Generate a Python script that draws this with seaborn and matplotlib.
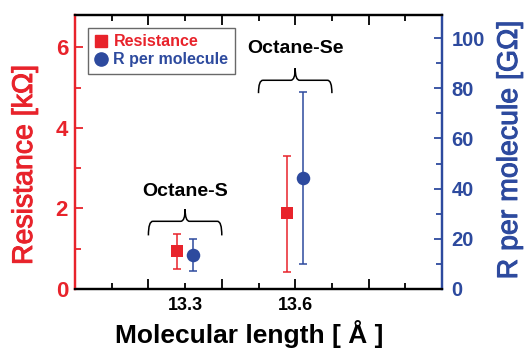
import matplotlib
matplotlib.use("Agg")
import matplotlib.pyplot as plt
import matplotlib.patheffects as pe
import seaborn as sns
import numpy as np
import pandas as pd
from matplotlib.path import Path
from matplotlib.patches import PathPatch
from matplotlib.lines import Line2D

# ---- data ----
molecules = ["Octane-S", "Octane-Se"]
x_resistance = [13.277, 13.577]
resistance = [0.95, 1.89]
resistance_lo = [0.50, 0.42]
resistance_hi = [1.36, 3.31]
x_permol = [13.322, 13.621]
r_permol = [13.5, 44.3]
r_permol_lo = [7.2, 9.8]
r_permol_hi = [19.8, 78.6]

RED = "#e8232b"
BLUE = "#2d4a9e"

sns.set_theme(style="ticks")
plt.rcParams["font.family"] = ["Liberation Sans", "DejaVu Sans"]

W, H = 526, 349
fig = plt.figure(figsize=(W / 100, H / 100), dpi=100)
L, R, B, T = 75, 442, 289, 15
ax = fig.add_axes([L / W, 1 - B / H, (R - L) / W, (B - T) / H])
ax2 = ax.twinx()

df_r = pd.DataFrame({"x": x_resistance, "y": resistance, "mol": molecules})
df_m = pd.DataFrame({"x": x_permol, "y": r_permol, "mol": molecules})

# error bars
yr = np.array(resistance)
ax.errorbar(x_resistance, yr, yerr=[yr - np.array(resistance_lo), np.array(resistance_hi) - yr],
            fmt="none", ecolor=RED, elinewidth=1.1, capsize=3.2, capthick=1.1, zorder=2)
ym = np.array(r_permol)
ax2.errorbar(x_permol, ym, yerr=[ym - np.array(r_permol_lo), np.array(r_permol_hi) - ym],
             fmt="none", ecolor=BLUE, elinewidth=1.1, capsize=3.2, capthick=1.1, zorder=2)

sns.scatterplot(data=df_r, x="x", y="y", ax=ax, marker="s", color=RED, s=72,
                linewidth=0, zorder=3, legend=False)
sns.scatterplot(data=df_m, x="x", y="y", ax=ax2, marker="o", color=BLUE, s=95,
                linewidth=0, zorder=3, legend=False)

ax.set_xlim(13.0, 14.0)
ax.set_ylim(0, 6.8)
ax2.set_ylim(0, 109.2)
ax.set_xlabel("")
ax.set_ylabel("")
ax2.set_ylabel("")

# x ticks
ax.set_xticks([13.2, 13.4, 13.6, 13.8], labels=["", "", "13.6", ""])
ax.set_xticks([13.1, 13.3, 13.5, 13.7, 13.9], labels=["", "13.3", "", "", ""], minor=True)
ax.tick_params(axis="x", which="both", direction="in", top=True, bottom=True,
               colors="black", labelsize=13, pad=6, width=1.3)
ax.tick_params(axis="x", which="major", length=7)
ax.tick_params(axis="x", which="minor", length=4)
for lab in ax.get_xticklabels(which="both"):
    lab.set_fontweight("bold")

# left y ticks
ax.set_yticks([0, 2, 4, 6])
ax.set_yticks([1, 3, 5], minor=True)
ax.tick_params(axis="y", which="both", direction="in", colors=RED, labelsize=16,
               width=1.3, pad=5)
ax.tick_params(axis="y", which="major", length=6)
ax.tick_params(axis="y", which="minor", length=4)
for lab in ax.get_yticklabels():
    lab.set_fontweight("bold")

# right y ticks
ax2.set_yticks([0, 20, 40, 60, 80, 100])
ax2.set_yticks([10, 30, 50, 70, 90], minor=True)
ax2.tick_params(axis="y", which="both", direction="in", colors=BLUE, labelsize=14.5,
                width=1.3, pad=7)
ax2.tick_params(axis="y", which="major", length=6)
ax2.tick_params(axis="y", which="minor", length=4)
for lab in ax2.get_yticklabels():
    lab.set_fontweight("bold")

for a in (ax, ax2):
    for s in a.spines.values():
        s.set_linewidth(1.6)
        s.set_color("black")
ax.spines["left"].set_color(RED)
ax2.spines["left"].set_color(RED)
ax2.spines["right"].set_color(BLUE)
ax.spines["right"].set_color(BLUE)

# braces (in left-axis data coordinates)
def brace(x0, x1, y_end, y_h, y_tip, d=0.012):
    xc = (x0 + x1) / 2
    verts = [(x0, y_end), (x0, y_h), (x0 + d, y_h), (xc - d, y_h), (xc, y_h), (xc, y_tip),
             (xc, y_tip), (xc, y_h), (xc + d, y_h), (x1 - d, y_h), (x1, y_h), (x1, y_end)]
    codes = [Path.MOVETO, Path.CURVE3, Path.CURVE3, Path.LINETO, Path.CURVE3, Path.CURVE3,
             Path.MOVETO, Path.CURVE3, Path.CURVE3, Path.LINETO, Path.CURVE3, Path.CURVE3]
    ax.add_patch(PathPatch(Path(verts, codes), fill=False, edgecolor="black", lw=1.1, zorder=4))

brace(13.2, 13.4, 1.33, 1.68, 1.98)
brace(13.5, 13.7, 4.86, 5.18, 5.48)
ax.text(13.3, 2.42, molecules[0], ha="center", va="center", fontsize=14, fontweight="bold", color="black")
ax.text(13.6, 5.98, molecules[1], ha="center", va="center", fontsize=14, fontweight="bold", color="black")

# legend
handles = [Line2D([], [], marker="s", color=RED, ls="none", markersize=8.5),
           Line2D([], [], marker="o", color=BLUE, ls="none", markersize=9.5)]
leg = ax.legend(handles, ["Resistance", "R per molecule"], loc="upper left",
                bbox_to_anchor=(0.035, 0.953), borderaxespad=0, frameon=True, fancybox=False,
                handlelength=0.8, handletextpad=0.4, borderpad=0.4, labelspacing=0.2,
                prop={"size": 11.5, "weight": "bold"})
leg.get_frame().set_edgecolor("#444444")
leg.get_frame().set_linewidth(1.0)
for t, c in zip(leg.get_texts(), [RED, BLUE]):
    t.set_color(c)
ax.set_zorder(ax2.get_zorder() + 1)
ax.patch.set_visible(False)

# axis titles
fig.text(25 / W, 1 - 165 / H, "Resistance [kΩ]", rotation=90, ha="center", va="center",
         fontsize=20.5, color=RED,
         path_effects=[pe.withStroke(linewidth=0.7, foreground=RED)])
fig.text(510 / W, 1 - 150 / H, "R per molecule [GΩ]", rotation=90, ha="center", va="center",
         fontsize=20.5, color=BLUE,
         path_effects=[pe.withStroke(linewidth=0.7, foreground=BLUE)])
fig.text(249 / W, 1 - 343 / H, "Molecular length [ Å ]", ha="center", va="baseline",
         fontsize=19, fontweight="bold", color="black")

fig.savefig("out.png", dpi=100)
